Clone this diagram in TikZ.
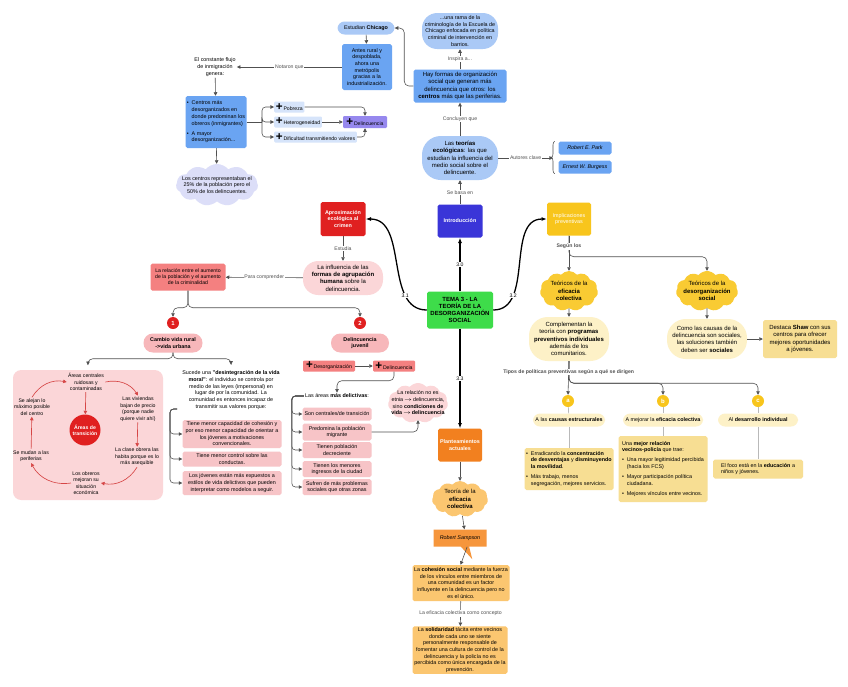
\documentclass[tikz,border=0pt]{standalone}
\usepackage{fontspec}
\setmainfont{Liberation Sans}
\usetikzlibrary{
    arrows.meta,
    positioning,
    calc,
    shapes.geometric,
    shapes.symbols,
    shapes.callouts,
    decorations.pathreplacing
}
\definecolor{MidBlue}{RGB}{106,164,242}
\definecolor{PaleBlue}{RGB}{170,201,246}
\definecolor{BarBlue}{RGB}{214,228,250}
\definecolor{Violet}{RGB}{150,136,238}
\definecolor{Lavender}{RGB}{220,222,248}
\definecolor{DeepRed}{RGB}{224,32,32}
\definecolor{RedLine}{RGB}{214,70,70}
\definecolor{Salmon}{RGB}{244,128,128}
\definecolor{PalePink}{RGB}{251,214,216}
\definecolor{RosePink}{RGB}{247,183,186}
\definecolor{CellPink}{RGB}{247,196,199}
\definecolor{LimeGreen}{RGB}{62,220,74}
\definecolor{Indigo}{RGB}{58,53,216}
\definecolor{Gold}{RGB}{248,197,28}
\definecolor{Cream}{RGB}{253,241,199}
\definecolor{Sand}{RGB}{247,222,147}
\definecolor{Tangerine}{RGB}{242,128,31}
\definecolor{Callout}{RGB}{246,150,60}
\definecolor{Apricot}{RGB}{251,198,112}
\definecolor{LineGray}{RGB}{80,80,80}
\def\pxu{0.03cm}
\newcommand\ftext{\fontsize{4.6}{5.7}\selectfont}
\newcommand\fmid{\fontsize{5.1}{6.2}\selectfont}
\newcommand\flab{\fontsize{4.4}{5.2}\selectfont}
\newcommand\fcyc{\fontsize{4.4}{5.5}\selectfont}
\newcommand\bplus{{\fontsize{10}{8}\selectfont\bfseries +}\hspace{0.6pt}}
\newcommand\bulx{\makebox[4pt][l]{\textbullet}}
\newcommand\indx{\hspace*{4pt}}
\newcommand\toarr{\,$\rightarrow$\,}
\tikzset{
  txt/.style    = {font=\ftext, align=center, inner sep=1pt},
  sz/.style 2 args = {minimum width=#1*\pxu, minimum height=#2*\pxu},
  block/.style  = {txt, rounded corners=1.5pt},
  pill/.style   = {txt, rounded corners=#1},
  tag/.style    = {txt, font=\flab, rounded corners=1pt, inner xsep=1.5pt,
                   inner ysep=0pt, minimum height=11*\pxu},
  numdot/.style = {circle, fill=#1, text=white, font=\fmid\bfseries,
                   inner sep=0pt, minimum size=12*\pxu, align=center},
  lbl/.style    = {font=\flab, fill=white, inner sep=0.7pt},
  arr/.style    = {-{Triangle[length=3pt,width=3pt]}, LineGray, line width=0.5pt},
  conn/.style   = {LineGray, line width=0.5pt},
  faint/.style  = {gray!55, line width=0.6pt},
  trunk/.style  = {-{Latex[length=4.5pt,width=3.5pt]}, black, line width=1.1pt},
  redarr/.style = {-{Triangle[length=3pt,width=3pt]}, RedLine, line width=0.55pt}
}

\begin{document}
\begin{tikzpicture}[
    x=0.03cm, y=-0.03cm,
    puff/.style={cloud, cloud puffs=11, cloud puff arc=100, cloud ignores aspect,
                 inner sep=0pt, fill=#1}
]
\fill[white] (0,0) rectangle (848,686);
\useasboundingbox (0,0) rectangle (848,686);

\node[pill=6pt, fill=PaleBlue, sz={57}{13}] (chi) at (366,28) {Estudian \textbf{Chicago}};
\node[block, fill=MidBlue, sz={50}{46}] (antes) at (367,67)
  {Antes rural y\\despoblada,\\ahora una\\metrópolis\\gracias a la\\industrialización.};
\node[txt] (flujo) at (215,67) {El constante flujo\\de inmigración\\genera:};
\node[block, fill=MidBlue, sz={61}{52}, align=left] (centros) at (216,122)
  {\bulx Centros más\\\indx desorganizados en\\\indx donde predominan los\\\indx obreros (inmigrantes)\\[3pt]\bulx A mayor\\\indx desorganización...};
\node[tag, fill=BarBlue, anchor=west] (pob) at (274,107) {\bplus Pobreza};
\node[tag, fill=BarBlue, anchor=west] (het) at (274,122) {\bplus Heterogeneidad};
\node[tag, fill=BarBlue, anchor=west] (dif) at (274,137) {\bplus Dificultad transmitiendo valores};
\node[tag, fill=Violet, sz={44}{12}] (del1) at (365,122) {\bplus Delincuencia};
\node[puff=Lavender, sz={82}{42}] (cen25) at (217,185) {};
\node[txt] at (cen25) {Los centros representaban el\\25\% de la población pero el\\50\% de los delincuentes.};

\draw[arr] (chi) -- (antes);
\draw[arr] (antes) -- node[lbl]{Notaron que} (flujo);
\draw[arr] (flujo) -- (centros);
\draw[arr] (centros) -- (cen25);
\coordinate (cbr) at (262,122);
\draw[conn] (centros.east) -- (cbr);
\foreach \b in {pob,het,dif}
  \draw[arr, rounded corners=3pt] (cbr) |- (\b.west);
\draw[arr, rounded corners=3pt] (pob.east) -| (del1.north);
\draw[arr] (het) -- (del1);
\draw[arr, rounded corners=3pt] (dif.east) -| (del1.south);

\node[pill=13pt, fill=PaleBlue, sz={76}{36}] (rama) at (460,31)
  {...una rama de la\\criminología de la Escuela de\\Chicago enfocada en política\\criminal de intervención en\\barrios.};
\node[block, fill=MidBlue, font=\fmid, sz={93}{33}] (hay) at (460,86)
  {Hay formas de organización\\social que generan más\\delincuencia que otros: los\\\textbf{centros} más que las periferias.};
\node[pill=16pt, fill=PaleBlue, font=\fmid, sz={76}{44}] (teo) at (460,158)
  {Las \textbf{teorías}\\\textbf{ecológicas}: las que\\estudian la influencia del\\medio social sobre el\\delincuente.};
\node[block, fill=MidBlue, font=\ftext\itshape, sz={53}{13}] (park) at (585,148) {Robert E. Park};
\node[block, fill=MidBlue, font=\ftext\itshape, sz={53}{13}] (burg) at (585,167) {Ernest W. Burgess};
\node[block, fill=Indigo, text=white, font=\ftext\bfseries, sz={45}{33}] (intro) at (460,221) {Introducción};

\draw[arr] (hay) -- node[lbl]{Inspira a...} (rama);
\draw[arr, rounded corners=4pt] (hay.west) -- ++(-9,0) |- (chi.east);
\draw[arr] (teo) -- node[lbl]{Concluyen que} (hay);
\coordinate (autb) at (553,158);
\draw[arr] (teo.east) -- node[lbl]{Autores clave} (autb);
\draw[conn, decorate, decoration={brace, amplitude=3pt}]
  ($(burg.south west)+(-3pt,0)$) -- ($(park.north west)+(-3pt,0)$);
\draw[arr] (intro) -- node[lbl]{Se basa en} (teo);

\node[block, fill=LimeGreen, font=\fmid\bfseries, sz={66}{37}] (tema) at (460,310)
  {TEMA 3 - LA\\TEORÍA DE LA\\DESORGANIZACIÓN\\SOCIAL};
\node[block, fill=DeepRed, text=white, font=\ftext\bfseries, sz={45}{34}] (aprox) at (343,219)
  {Aproximación\\ecológica al\\crimen};
\node[block, fill=Gold, text=white, sz={44}{33}] (impl) at (569,219) {Implicaciones\\preventivas};
\node[block, fill=Tangerine, text=white, font=\ftext\bfseries, sz={44}{33}] (plant) at (460,445)
  {Planteamientos\\actuales};

\draw[trunk] (tema) -- node[lbl]{3.0} (intro);
\draw[trunk] (tema.west) to[out=180,in=0] node[lbl, pos=0.25]{3.1} (aprox.east);
\draw[trunk] (tema.east) to[out=0,in=180] node[lbl, pos=0.25]{3.2} (impl.west);
\draw[trunk] (tema) -- node[lbl]{3.3} (plant);

\node[pill=13pt, fill=PalePink, font=\fmid, sz={80}{34}] (influ) at (343,278)
  {La influencia de las\\\textbf{formas de agrupación}\\\textbf{humana} sobre la\\delincuencia.};
\node[block, fill=Salmon, font=\flab, sz={75}{27}] (relac) at (188,277)
  {La relación entre el aumento\\de la población y el aumento\\de la criminalidad};
\draw[arr] (aprox) -- node[lbl]{Estudia} (influ);
\draw[arr] (influ) -- node[lbl]{Para comprender} (relac);
\node[numdot=DeepRed] (n1) at (173,323) {1};
\node[numdot=DeepRed] (n2) at (360,323) {2};
\draw[arr, rounded corners=4pt] (relac.south) -- ++(0,17) -| (n1.north);
\draw[arr, rounded corners=4pt] (relac.south) -- ++(0,17) -| (n2.north);
\node[pill=8pt, fill=RosePink, font=\ftext\bfseries, sz={59}{19}] (cambio) at (173,343)
  {Cambio vida rural\\->vida urbana};
\node[pill=8pt, fill=RosePink, font=\ftext\bfseries, sz={58}{19}] (delju) at (360,343)
  {Delincuencia\\juvenil};

\node[fill=PalePink, rounded corners=7pt, sz={150}{130}] (cyc) at (88,435) {};
\node[txt, font=\fcyc] (ac) at (86,382) {Áreas centrales\\ruidosas y\\contaminadas};
\node[txt, font=\fcyc] (viv) at (138,409) {Las viviendas\\bajan de precio\\(porque nadie\\quiere vivir ahí)};
\node[txt, font=\fcyc] (clase) at (137,457) {La clase obrera las\\habita porque es lo\\más asequible};
\node[txt, font=\fcyc] (obr) at (86,483) {Los obreros\\mejoran su\\situación\\económica};
\node[txt, font=\fcyc] (mud) at (31,456) {Se mudan a las\\periferias};
\node[txt, font=\fcyc] (alej) at (32,407) {Se alejan lo\\máximo posible\\del centro};
\node[numdot=DeepRed, minimum size=31*\pxu, font=\flab\bfseries] (trans) at (85,430) {Áreas de\\transición};
\draw[redarr] (ac.east) to[bend left=35] (viv.north);
\draw[redarr] (viv) -- (clase);
\draw[redarr] (clase.south) to[bend left=35] (obr.east);
\draw[redarr] (obr.west) to[bend left=35] (mud.south);
\draw[redarr] (mud) -- (alej);
\draw[redarr] (alej.north) to[bend left=35] (ac.west);
\draw[redarr] (ac) -- (trans);

\node[txt] (sucede) at (231,390)
  {Sucede una \textbf{"desintegración de la vida}\\\textbf{moral"}: el individuo se controla por\\medio de las leyes (impersonal) en\\lugar de por la comunidad. La\\comunidad es entonces incapaz de\\transmitir sus valores porque:};
\draw[arr, rounded corners=4pt, shorten >=4pt] (cambio.south) -- ++(0,6) -| (cyc.north);
\draw[arr, rounded corners=4pt, shorten >=4pt] (cambio.south) -- ++(0,6) -| (sucede.north);
\node[block, fill=CellPink, sz={99}{28}] (tc1) at (232,434)
  {Tiene menor capacidad de cohesión y\\por eso menor capacidad de orientar a\\los jóvenes a motivaciones\\convencionales.};
\node[block, fill=CellPink, sz={99}{15}] (tc2) at (232,459) {Tiene menor control sobre las\\conductas.};
\node[block, fill=CellPink, sz={99}{24}] (tc3) at (232,483)
  {Los jóvenes están más expuestos a\\estilos de vida delictivos que pueden\\interpretar como modelos a seguir.};
\coordinate (sucb) at (177,409);
\foreach \t in {tc1,tc2,tc3}
  \draw[arr, rounded corners=3pt] (sucb) -- ++(-7,0) |- (\t.west);

\node[tag, fill=Salmon, sz={52}{11}] (desorg) at (329,366) {\bplus Desorganización};
\node[tag, fill=Salmon, sz={42}{11}] (del2) at (394,366) {\bplus Delincuencia};
\draw[arr] (desorg) -- (del2);
\node[txt] (areas) at (337,396) {Las áreas \textbf{más delictivas}:};
\draw[arr, rounded corners=4pt] (del2.south) -- ++(0,9) -| (areas.north);
\node[block, fill=CellPink, sz={69}{13}] (ar1) at (337,414) {Son centrales/de transición};
\node[block, fill=CellPink, sz={69}{17}] (ar2) at (337,432) {Predomina la población\\migrante};
\node[block, fill=CellPink, sz={69}{16}] (ar3) at (337,450) {Tienen población\\decreciente};
\node[block, fill=CellPink, sz={69}{16}] (ar4) at (337,469) {Tienen los menores\\ingresos de la ciudad};
\node[block, fill=CellPink, sz={69}{16}] (ar5) at (337,487) {Sufren de más problemas\\sociales que otras zonas};
\foreach \a in {ar1,ar2,ar3,ar4,ar5}
  \draw[arr, rounded corners=3pt] (areas.west) -- ++(-12,0) |- (\a.west);
\node[puff=PalePink, sz={60}{40}] (relno) at (418,403) {};
\node[txt] at (relno) {La relación no es\\etnia\toarr delincuencia,\\sino \textbf{condiciones de}\\\textbf{vida\toarr delincuencia}};
\draw[arr, rounded corners=4pt] (ar2.east) -| (relno.south);

\node[puff=Gold!90, sz={58}{40}] (tec1) at (569,291) {};
\node[txt, font=\fmid] at (tec1) {Teóricos de la\\\textbf{eficacia}\\\textbf{colectiva}};
\node[puff=Gold!90, sz={62}{40}] (tec2) at (707,291) {};
\node[txt, font=\fmid] at (tec2) {Teóricos de la\\\textbf{desorganización}\\\textbf{social}};
\node[pill=16pt, fill=Cream, font=\fmid, sz={80}{44}] (comp) at (569,339)
  {Complementan la\\teoría con \textbf{programas}\\\textbf{preventivos individuales}\\además de los\\comunitarios.};
\node[pill=16pt, fill=Cream, font=\fmid, sz={80}{40}] (como) at (707,339)
  {Como las causas de la\\delincuencia son sociales,\\las soluciones también\\deben ser \textbf{sociales}};
\node[block, fill=Sand, font=\fmid, sz={74}{38}] (shaw) at (800,339)
  {Destaca \textbf{Shaw} con sus\\centros para ofrecer\\mejores oportunidades\\a jóvenes.};

\draw[arr, rounded corners=4pt] (impl.south) -- ++(0,21) -| (tec2.north);
\draw[arr] (impl.south) -- node[lbl, font=\flab\bfseries, pos=0.3]{Según los} (tec1.north);
\draw[arr] (tec1) -- (comp);
\draw[arr] (tec2) -- (como);
\draw[arr] (como) -- (shaw);

\node[numdot=Gold] (ca) at (568,401) {a};
\node[numdot=Gold] (cb) at (663,401) {b};
\node[numdot=Gold] (cc) at (758,401) {c};
\draw[arr, rounded corners=4pt] (comp.south) -- ++(0,22) -| (cb.north);
\draw[arr, rounded corners=4pt] (comp.south) -- ++(0,22) -| (cc.north);
\draw[arr] (comp.south) -- node[lbl, font=\flab\bfseries, pos=0.32]
  {Tipos de políticas preventivas según a qué se dirigen} (ca.north);
\node[pill=6pt, fill=Cream, sz={72}{13}] (pa) at (569,420) {A las \textbf{causas estructurales}};
\node[pill=6pt, fill=Cream, sz={80}{13}] (pb) at (663,420) {A mejorar la \textbf{eficacia colectiva}};
\node[pill=6pt, fill=Cream, sz={80}{13}] (pc) at (758,420) {Al \textbf{desarrollo individual}};
\node[block, fill=Sand, align=left, sz={89}{42}] (ba) at (569,469)
  {\bulx Erradicando la \textbf{concentración}\\\indx\textbf{de desventajas} y \textbf{disminuyendo}\\\indx\textbf{la movilidad}.\\[3pt]\bulx Más trabajo, menos\\\indx segregación, mejores servicios.};
\node[block, fill=Sand, align=left, sz={89}{66}] (bb) at (663,469)
  {Una \textbf{mejor relación}\\\textbf{vecinos-policía} que trae:\\[3pt]\bulx Una mayor legitimidad percibida\\\indx(hacia los FCS)\\[3pt]\bulx Mayor participación política\\\indx ciudadana.\\[3pt]\bulx Mejores vínculos entre vecinos.};
\node[block, fill=Sand, align=left, sz={90}{19}] (bc) at (758,469)
  {El foco está en la \textbf{educación} a\\niños y jóvenes.};
\draw[faint] (ca) -- (pa);
\draw[faint] (cb) -- (pb);
\draw[faint] (cc) -- (pc);
\draw[faint] (pa) -- (ba);
\draw[faint] (pb) -- (bb);
\draw[faint] (pc) -- (bc);

\node[puff=Apricot, sz={56}{36}] (efic) at (460,499) {};
\node[txt, font=\fmid] at (efic) {Teoría de la\\\textbf{eficacia}\\\textbf{colectiva}};
\node[rectangle callout, fill=Callout, font=\ftext\itshape, sz={53}{17},
      callout relative pointer={(0.22cm,-0.38cm)}] (samp) at (460,538) {Robert Sampson};
\node[block, fill=Apricot, sz={97}{36}] (coh) at (461,583)
  {La \textbf{cohesión social} mediante la fuerza\\de los vínculos entre miembros de\\una comunidad es un factor\\influyente en la delincuencia pero no\\es el único.};
\node[block, fill=Apricot, sz={95}{47}] (sol) at (460,650)
  {La \textbf{solidaridad} tácita entre vecinos\\donde cada uno se siente\\personalmente responsable de\\fomentar una cultura de control de la\\delincuencia y la policía no es\\percibida como única encargada de la\\prevención.};
\draw[arr] (plant) -- (efic);
\draw[arr] (efic) -- (samp);
\draw[arr] (samp) -- (coh);
\draw[arr] (coh) -- node[lbl]{La eficacia colectiva como concepto} (sol);
\end{tikzpicture}
\end{document}
